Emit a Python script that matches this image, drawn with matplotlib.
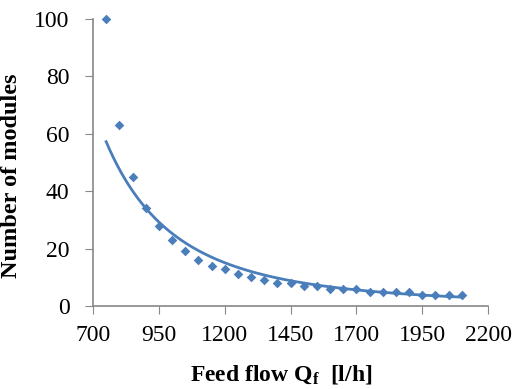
import numpy as np
import matplotlib
matplotlib.use("Agg")
import matplotlib.pyplot as plt

plt.rcParams["font.family"] = ["Liberation Serif", "DejaVu Serif"]
plt.rcParams["mathtext.fontset"] = "custom"
plt.rcParams["mathtext.rm"] = "Liberation Serif"
plt.rcParams["mathtext.bf"] = "Liberation Serif:bold"

# feed flow [l/h] and required number of modules
feed_flow = [750, 800, 850, 900, 950, 1000, 1050, 1100, 1150, 1200,
             1250, 1300, 1350, 1400, 1450, 1500, 1550, 1600, 1650, 1700,
             1750, 1800, 1850, 1900, 1950, 2000, 2050, 2100]
modules = [100, 63, 45, 34, 28, 23, 19, 16, 14, 13,
           11, 10, 9, 8, 8, 7, 7, 6, 6, 6,
           5, 5, 5, 5, 4, 4, 4, 4]

x_ticks = [700, 950, 1200, 1450, 1700, 1950, 2200]
y_ticks = [0, 20, 40, 60, 80, 100]

blue = "#4a7ebb"

fig = plt.figure(figsize=(5.15, 3.89), dpi=100)
ax = fig.add_axes([0.1806, 0.2134, 0.767, 0.7377])

# power trendline fitted in log space
q = np.array(feed_flow, dtype=float)
n = np.array(modules, dtype=float)
b, log_a = np.polyfit(np.log(q), np.log(n), 1)
q_fit = np.linspace(q.min(), q.max(), 200)
ax.plot(q_fit, np.exp(log_a) * q_fit ** b, color=blue, lw=2.0, zorder=2)

ax.scatter(feed_flow, modules, marker="D", s=24, color=blue, zorder=3,
           linewidths=0, clip_on=False)

ax.set_xlim(700, 2200)
ax.set_ylim(0, 100)
ax.set_xticks(x_ticks)
ax.set_yticks(y_ticks)
ax.tick_params(labelsize=17, color="#888888", length=6, direction="out")
ax.tick_params(axis="x", pad=8)
ax.tick_params(axis="y", pad=11)
for side in ["top", "right"]:
    ax.spines[side].set_visible(False)
for side in ["left", "bottom"]:
    ax.spines[side].set_color("#888888")
    ax.spines[side].set_linewidth(1.2)

ax.set_xlabel(r"Feed flow $\mathbf{Q_f}$  [l/h]", fontsize=17, fontweight="bold")
ax.set_ylabel("Number of modules", fontsize=17.5, fontweight="bold")
ax.xaxis.set_label_coords(0.477, -0.2)
ax.yaxis.set_label_coords(-0.18, 0.455)

fig.savefig("out.png", dpi=100)
